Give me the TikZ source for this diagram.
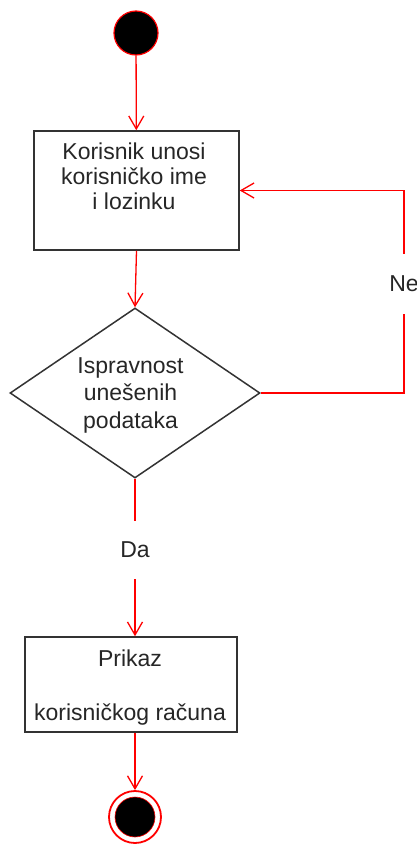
\documentclass[tikz,border=0pt]{standalone}
\usepackage{fontspec}
\setmainfont{Liberation Sans}
\usetikzlibrary{shapes.geometric,arrows.meta}

\tikzset{
  flow/.style={red, line width=1.3pt, -{Straight Barb[length=13pt,width=15pt,line width=1.3pt]}},
  box/.style={draw=black!80, line width=1.5pt, inner sep=0pt},
  txt/.style={font=\fontsize{23}{25}\selectfont, align=center, inner sep=0pt, text=black!85},
  lbl/.style={fill=white, font=\fontsize{23}{25}\selectfont, text=black!85, inner xsep=3pt, minimum height=60pt}
}

\begin{document}
\begin{tikzpicture}[x=1pt,y=-1pt]
\useasboundingbox (0,0) rectangle (417,846);

% Start and end points
\node[circle, fill=black, draw=red, line width=1.2pt, minimum size=44pt, inner sep=0pt] (start) at (136,33) {};
\node[circle, draw=red, line width=1.8pt, minimum size=52pt, inner sep=0pt] (end) at (135,817) {};
\node[circle, fill=black, draw=red, line width=0.6pt, minimum size=40pt, inner sep=0pt] (endin) at (end) {};

% Activity boxes and the decision
\node[box, minimum width=205pt, minimum height=119pt] (box1) at (136.5,190.5) {};
\node[box, diamond, minimum width=250pt, minimum height=170pt] (dec) at (135,393) {};
\node[box, minimum width=212pt, minimum height=95pt] (box2) at (131,684.5) {};

% Texts
\node[txt, anchor=north] (t1) at (134,143) {Korisnik unosi\\korisničko ime\\i lozinku};
\node[txt, anchor=north, font=\fontsize{23}{27.5}\selectfont] (t2) at (130.5,357) {Ispravnost\\unešenih\\podataka};
\node[txt, anchor=north, font=\fontsize{23}{27}\selectfont] (t3) at (130,650) {Prikaz\\[27pt]korisničkog računa};

% Control flow
\coordinate (loop) at (404,0);
\draw[flow] (start) -- (box1);
\draw[flow] (box1.south) -- (dec.north);
\draw[flow] (dec.east) -| node[lbl, pos=0.77] (ne) {Ne} (loop |- box1.east) -- (box1.east);
\draw[flow] (dec.south) -- node[lbl, pos=0.45, minimum height=58pt] (da) {Da} (dec.south |- box2.north);
\draw[flow] (end.north |- box2.south) -- (end.north);

\end{tikzpicture}
\end{document}
